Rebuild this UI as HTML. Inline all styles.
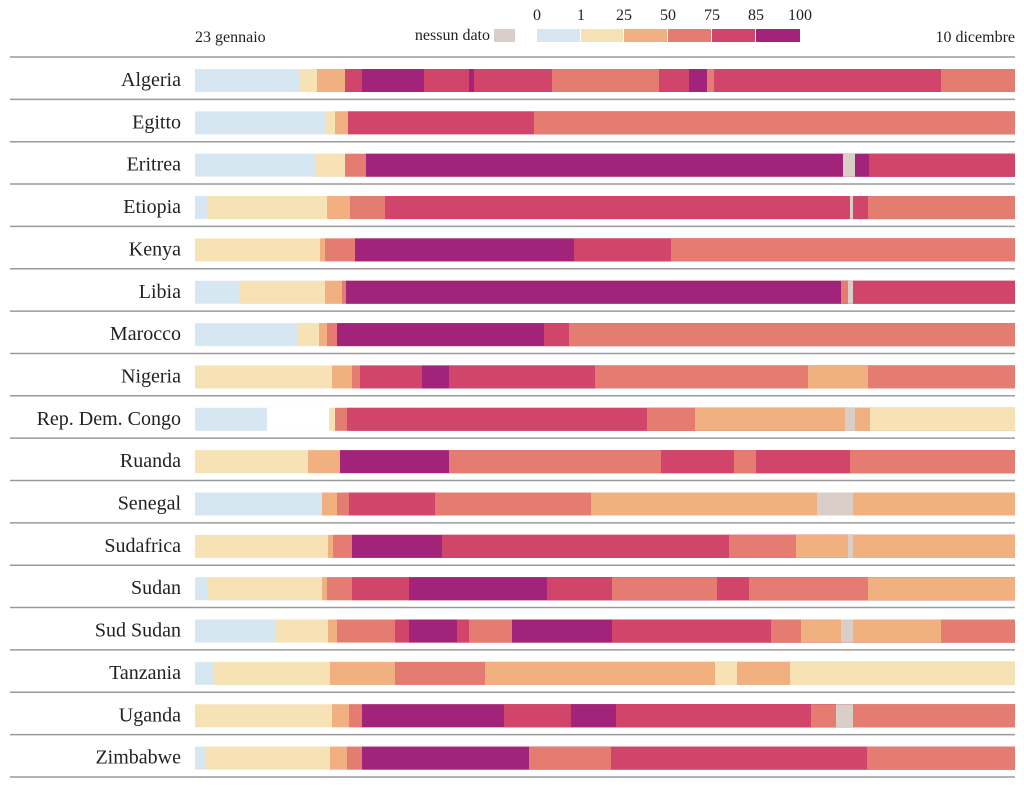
<!DOCTYPE html>
<html><head><meta charset="utf-8"><style>
html,body{margin:0;padding:0;background:#fff;}
svg{display:block;font-family:"Liberation Serif",serif;}
</style></head><body>
<svg width="1024" height="785" viewBox="0 0 1024 785">
<defs><style>
.B{fill:#d7e7f1}.C{fill:#f7e2b6}.O{fill:#f0b080}.S{fill:#e57c72}.R{fill:#d1456a}.P{fill:#a2237a}.G{fill:#d9cec8}.W{fill:#fff}
.l{font-size:20px;fill:#222;text-anchor:end}
.t{font-size:16px;fill:#222}
</style></defs>
<text class="t" x="195" y="42">23 gennaio</text>
<text class="t" x="1015" y="42" text-anchor="end">10 dicembre</text>
<text class="t" x="490" y="40" text-anchor="end">nessun dato</text>
<rect x="494" y="29" width="21" height="13" class="G"/>
<rect x="537" y="29" width="43" height="13" class="B"/>
<rect x="581" y="29" width="42" height="13" class="C"/>
<rect x="624" y="29" width="43" height="13" class="O"/>
<rect x="668" y="29" width="43" height="13" class="S"/>
<rect x="712" y="29" width="43" height="13" class="R"/>
<rect x="756" y="29" width="44" height="13" class="P"/>
<g class="t" text-anchor="middle">
<text x="537" y="20">0</text><text x="581" y="20">1</text><text x="624" y="20">25</text><text x="668" y="20">50</text><text x="712" y="20">75</text><text x="756" y="20">85</text><text x="800" y="20">100</text>
</g>
<g stroke="#9a9a9a" stroke-width="1.5">
<line x1="10" x2="1015" y1="57" y2="57"/><line x1="10" x2="1015" y1="99.35" y2="99.35"/><line x1="10" x2="1015" y1="141.7" y2="141.7"/><line x1="10" x2="1015" y1="184.05" y2="184.05"/><line x1="10" x2="1015" y1="226.4" y2="226.4"/><line x1="10" x2="1015" y1="268.75" y2="268.75"/><line x1="10" x2="1015" y1="311.1" y2="311.1"/><line x1="10" x2="1015" y1="353.45" y2="353.45"/><line x1="10" x2="1015" y1="395.8" y2="395.8"/><line x1="10" x2="1015" y1="438.15" y2="438.15"/><line x1="10" x2="1015" y1="480.5" y2="480.5"/><line x1="10" x2="1015" y1="522.85" y2="522.85"/><line x1="10" x2="1015" y1="565.2" y2="565.2"/><line x1="10" x2="1015" y1="607.55" y2="607.55"/><line x1="10" x2="1015" y1="649.9" y2="649.9"/><line x1="10" x2="1015" y1="692.25" y2="692.25"/><line x1="10" x2="1015" y1="734.6" y2="734.6"/><line x1="10" x2="1015" y1="777" y2="777"/>
</g>
<!-- rows: each rect extends to 1015; later overwrite -->
<g transform="translate(0,69)"><text class="l" x="181" y="17">Algeria</text>
<rect x="195" width="820" height="23" class="B"/><rect x="300" width="715" height="23" class="C"/><rect x="317" width="698" height="23" class="O"/><rect x="345" width="670" height="23" class="R"/><rect x="362" width="653" height="23" class="P"/><rect x="424" width="591" height="23" class="R"/><rect x="469" width="546" height="23" class="P"/><rect x="474" width="541" height="23" class="R"/><rect x="552" width="463" height="23" class="S"/><rect x="659" width="356" height="23" class="R"/><rect x="689" width="326" height="23" class="P"/><rect x="707" width="308" height="23" class="S"/><rect x="714" width="301" height="23" class="R"/><rect x="941" width="74" height="23" class="S"/></g>
<g transform="translate(0,111.35)"><text class="l" x="181" y="17">Egitto</text>
<rect x="195" width="820" height="23" class="B"/><rect x="325" width="690" height="23" class="C"/><rect x="335" width="680" height="23" class="O"/><rect x="348" width="667" height="23" class="R"/><rect x="534" width="481" height="23" class="S"/></g>
<g transform="translate(0,153.7)"><text class="l" x="181" y="17">Eritrea</text>
<rect x="195" width="820" height="23" class="B"/><rect x="315" width="700" height="23" class="C"/><rect x="345" width="670" height="23" class="S"/><rect x="366" width="649" height="23" class="P"/><rect x="843" width="172" height="23" class="G"/><rect x="855" width="160" height="23" class="P"/><rect x="869" width="146" height="23" class="R"/></g>
<g transform="translate(0,196.05)"><text class="l" x="181" y="17">Etiopia</text>
<rect x="195" width="820" height="23" class="B"/><rect x="208" width="807" height="23" class="C"/><rect x="327" width="688" height="23" class="O"/><rect x="350" width="665" height="23" class="S"/><rect x="385" width="630" height="23" class="R"/><rect x="850" width="165" height="23" class="G"/><rect x="853" width="162" height="23" class="R"/><rect x="868" width="147" height="23" class="S"/></g>
<g transform="translate(0,238.4)"><text class="l" x="181" y="17">Kenya</text>
<rect x="195" width="820" height="23" class="C"/><rect x="320" width="695" height="23" class="O"/><rect x="325" width="690" height="23" class="S"/><rect x="355" width="660" height="23" class="P"/><rect x="574" width="441" height="23" class="R"/><rect x="671" width="344" height="23" class="S"/></g>
<g transform="translate(0,280.75)"><text class="l" x="181" y="17">Libia</text>
<rect x="195" width="820" height="23" class="B"/><rect x="240" width="775" height="23" class="C"/><rect x="325" width="690" height="23" class="O"/><rect x="342" width="673" height="23" class="S"/><rect x="346" width="669" height="23" class="P"/><rect x="841" width="174" height="23" class="S"/><rect x="848" width="167" height="23" class="G"/><rect x="853" width="162" height="23" class="R"/></g>
<g transform="translate(0,323.1)"><text class="l" x="181" y="17">Marocco</text>
<rect x="195" width="820" height="23" class="B"/><rect x="297" width="718" height="23" class="C"/><rect x="319" width="696" height="23" class="O"/><rect x="327" width="688" height="23" class="S"/><rect x="337" width="678" height="23" class="P"/><rect x="544" width="471" height="23" class="R"/><rect x="569" width="446" height="23" class="S"/></g>
<g transform="translate(0,365.45)"><text class="l" x="181" y="17">Nigeria</text>
<rect x="195" width="820" height="23" class="C"/><rect x="332" width="683" height="23" class="O"/><rect x="352" width="663" height="23" class="S"/><rect x="360" width="655" height="23" class="R"/><rect x="422" width="593" height="23" class="P"/><rect x="449" width="566" height="23" class="R"/><rect x="595" width="420" height="23" class="S"/><rect x="808" width="207" height="23" class="O"/><rect x="868" width="147" height="23" class="S"/></g>
<g transform="translate(0,407.8)"><text class="l" x="181" y="17">Rep. Dem. Congo</text>
<rect x="195" width="820" height="23" class="B"/><rect x="267" width="748" height="23" class="W"/><rect x="329" width="686" height="23" class="C"/><rect x="335" width="680" height="23" class="S"/><rect x="347" width="668" height="23" class="R"/><rect x="647" width="368" height="23" class="S"/><rect x="695" width="320" height="23" class="O"/><rect x="845" width="170" height="23" class="G"/><rect x="855" width="160" height="23" class="O"/><rect x="870" width="145" height="23" class="C"/></g>
<g transform="translate(0,450.15)"><text class="l" x="181" y="17">Ruanda</text>
<rect x="195" width="820" height="23" class="C"/><rect x="308" width="707" height="23" class="O"/><rect x="340" width="675" height="23" class="P"/><rect x="449" width="566" height="23" class="S"/><rect x="661" width="354" height="23" class="R"/><rect x="734" width="281" height="23" class="S"/><rect x="756" width="259" height="23" class="R"/><rect x="850" width="165" height="23" class="S"/></g>
<g transform="translate(0,492.5)"><text class="l" x="181" y="17">Senegal</text>
<rect x="195" width="820" height="23" class="B"/><rect x="322" width="693" height="23" class="O"/><rect x="337" width="678" height="23" class="S"/><rect x="349" width="666" height="23" class="R"/><rect x="435" width="580" height="23" class="S"/><rect x="591" width="424" height="23" class="O"/><rect x="817" width="198" height="23" class="G"/><rect x="853" width="162" height="23" class="O"/></g>
<g transform="translate(0,534.85)"><text class="l" x="181" y="17">Sudafrica</text>
<rect x="195" width="820" height="23" class="C"/><rect x="328" width="687" height="23" class="O"/><rect x="333" width="682" height="23" class="S"/><rect x="352" width="663" height="23" class="P"/><rect x="442" width="573" height="23" class="R"/><rect x="729" width="286" height="23" class="S"/><rect x="796" width="219" height="23" class="O"/><rect x="848" width="167" height="23" class="G"/><rect x="853" width="162" height="23" class="O"/></g>
<g transform="translate(0,577.2)"><text class="l" x="181" y="17">Sudan</text>
<rect x="195" width="820" height="23" class="B"/><rect x="207" width="808" height="23" class="C"/><rect x="322" width="693" height="23" class="O"/><rect x="327" width="688" height="23" class="S"/><rect x="352" width="663" height="23" class="R"/><rect x="409" width="606" height="23" class="P"/><rect x="547" width="468" height="23" class="R"/><rect x="612" width="403" height="23" class="S"/><rect x="717" width="298" height="23" class="R"/><rect x="749" width="266" height="23" class="S"/><rect x="868" width="147" height="23" class="O"/></g>
<g transform="translate(0,619.55)"><text class="l" x="181" y="17">Sud Sudan</text>
<rect x="195" width="820" height="23" class="B"/><rect x="275" width="740" height="23" class="C"/><rect x="328" width="687" height="23" class="O"/><rect x="337" width="678" height="23" class="S"/><rect x="395" width="620" height="23" class="R"/><rect x="409" width="606" height="23" class="P"/><rect x="457" width="558" height="23" class="R"/><rect x="469" width="546" height="23" class="S"/><rect x="512" width="503" height="23" class="P"/><rect x="612" width="403" height="23" class="R"/><rect x="771" width="244" height="23" class="S"/><rect x="801" width="214" height="23" class="O"/><rect x="841" width="174" height="23" class="G"/><rect x="853" width="162" height="23" class="O"/><rect x="941" width="74" height="23" class="S"/></g>
<g transform="translate(0,661.9)"><text class="l" x="181" y="17">Tanzania</text>
<rect x="195" width="820" height="23" class="B"/><rect x="213" width="802" height="23" class="C"/><rect x="330" width="685" height="23" class="O"/><rect x="395" width="620" height="23" class="S"/><rect x="485" width="530" height="23" class="O"/><rect x="715" width="300" height="23" class="C"/><rect x="737" width="278" height="23" class="O"/><rect x="790" width="225" height="23" class="C"/></g>
<g transform="translate(0,704.25)"><text class="l" x="181" y="17">Uganda</text>
<rect x="195" width="820" height="23" class="C"/><rect x="332" width="683" height="23" class="O"/><rect x="349" width="666" height="23" class="S"/><rect x="362" width="653" height="23" class="P"/><rect x="504" width="511" height="23" class="R"/><rect x="571" width="444" height="23" class="P"/><rect x="616" width="399" height="23" class="R"/><rect x="811" width="204" height="23" class="S"/><rect x="836" width="179" height="23" class="G"/><rect x="853" width="162" height="23" class="S"/></g>
<g transform="translate(0,746.6)"><text class="l" x="181" y="17">Zimbabwe</text>
<rect x="195" width="820" height="23" class="B"/><rect x="205" width="810" height="23" class="C"/><rect x="330" width="685" height="23" class="O"/><rect x="347" width="668" height="23" class="S"/><rect x="362" width="653" height="23" class="P"/><rect x="529" width="486" height="23" class="S"/><rect x="611" width="404" height="23" class="R"/><rect x="867" width="148" height="23" class="S"/></g>
</svg>
</body></html>
